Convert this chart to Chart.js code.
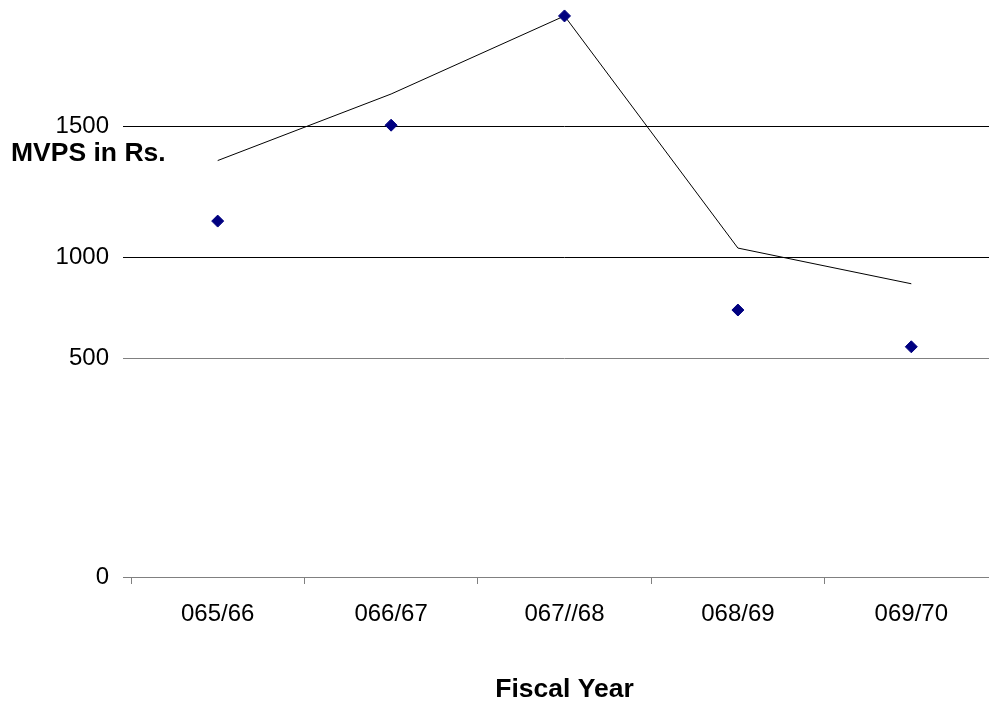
<!DOCTYPE html>
<html>
<head>
<meta charset="utf-8">
<script src="https://cdn.jsdelivr.net/npm/chart.js@4/dist/chart.umd.min.js"></script>
<style>
  html, body { margin: 0; padding: 0; background: #fff; overflow: hidden; }
  #wrap { width: 989px; height: 704px; overflow: hidden; position: relative; }
  canvas { display: block; }
</style>
</head>
<body>
<div id="wrap"><canvas id="c" width="1005" height="704"></canvas></div>
<script>
// ---- data ----
const categories = ['065/66', '066/67', '067//68', '068/69', '069/70'];
const lineValues = [1370, 1624, 1922, 1036, 870];
const markerValues = [1139, 1505, 1922, 740, 558];
const yTickValues = [0, 500, 1000, 1500];
const yAxisTitle = 'MVPS in Rs.';
const xAxisTitle = 'Fiscal Year';

// ---- axis layout: the value axis of the original is not evenly spaced ----
// fraction of plot height at which each tick value sits
const Y_KNOTS = [[0, 0], [500, 0.38536], [1000, 0.56349], [1500, 0.79453]];

function valueToFraction(v) {
  for (let i = 1; i < Y_KNOTS.length; i++) {
    if (v <= Y_KNOTS[i][0] || i === Y_KNOTS.length - 1) {
      const [v0, f0] = Y_KNOTS[i - 1], [v1, f1] = Y_KNOTS[i];
      return f0 + (v - v0) * (f1 - f0) / (v1 - v0);
    }
  }
  return 0;
}
function fractionToValue(f) {
  for (let i = 1; i < Y_KNOTS.length; i++) {
    if (f <= Y_KNOTS[i][1] || i === Y_KNOTS.length - 1) {
      const [v0, f0] = Y_KNOTS[i - 1], [v1, f1] = Y_KNOTS[i];
      return v0 + (f - f0) * (v1 - v0) / (f1 - f0);
    }
  }
  return 0;
}

class PiecewiseScale extends Chart.LinearScale {
  static id = 'piecewise';
  static defaults = {};
  getPixelForValue(value) {
    return this.bottom - valueToFraction(value) * (this.bottom - this.top);
  }
  getValueForPixel(pixel) {
    return fractionToValue((this.bottom - pixel) / (this.bottom - this.top));
  }
}
Chart.register(PiecewiseScale);

const FONT = "'Liberation Sans', Arial, Helvetica, sans-serif";

const titlePlugin = {
  id: 'axisTitles',
  afterDraw(chart) {
    const ctx = chart.ctx, a = chart.chartArea;
    ctx.save();
    ctx.fillStyle = '#000';
    ctx.font = 'bold 26.5px ' + FONT;
    ctx.textBaseline = 'middle';
    ctx.textAlign = 'left';
    ctx.fillText(yAxisTitle, 11, 154);
    ctx.textAlign = 'center';
    ctx.fillText(xAxisTitle, (a.left + a.right) / 2, 690);
    ctx.restore();
  }
};

new Chart(document.getElementById('c'), {
  type: 'line',
  data: {
    labels: categories,
    datasets: [
      {
        data: markerValues,
        showLine: false,
        pointStyle: 'rectRot',
        pointRadius: 6,
        pointBorderWidth: 1,
        pointBackgroundColor: '#000080',
        pointBorderColor: '#000080',
        clip: false,
        order: 0
      },
      {
        data: lineValues,
        borderColor: '#000000',
        borderWidth: 1,
        pointRadius: 0,
        tension: 0,
        fill: false,
        clip: false,
        order: 1
      }
    ]
  },
  options: {
    responsive: false,
    animation: false,
    events: [],
    layout: { padding: { top: 10, left: 0, right: 1.5, bottom: 0 } },
    plugins: { legend: { display: false }, tooltip: { enabled: false } },
    scales: {
      x: {
        type: 'category',
        offset: true,
        grid: {
          offset: true,
          drawOnChartArea: false,
          drawTicks: true,
          tickLength: 7,
          color: '#808080',
          lineWidth: 1
        },
        border: { display: true, color: '#808080', width: 1 },
        ticks: {
          color: '#000',
          font: { family: FONT, size: 24 },
          padding: 16,
          maxRotation: 0,
          autoSkip: false
        },
        afterFit(scale) {
          scale.height = 127;
          scale.paddingLeft = 0; scale.paddingRight = 0;
          scale.paddingTop = 0; scale.paddingBottom = 0;
        }
      },
      y: {
        type: 'piecewise',
        min: 0,
        max: 1945,
        afterBuildTicks(scale) {
          scale.ticks = yTickValues.map(v => ({ value: v }));
        },
        grid: {
          drawTicks: true,
          tickLength: 8,
          lineWidth: 1,
          color: (ctx) => {
            const v = ctx.tick ? ctx.tick.value : null;
            return (v === 0 || v === 500) ? '#808080' : '#000000';
          }
        },
        border: { display: false },
        ticks: {
          color: '#000',
          font: { family: FONT, size: 24 },
          padding: 14,
          callback: (v) => String(v)
        },
        afterFit(scale) {
          scale.width = 131;
          scale.paddingTop = 0; scale.paddingBottom = 0;
          scale.paddingLeft = 0; scale.paddingRight = 0;
        }
      }
    }
  },
  plugins: [titlePlugin]
});
</script>
</body>
</html>
